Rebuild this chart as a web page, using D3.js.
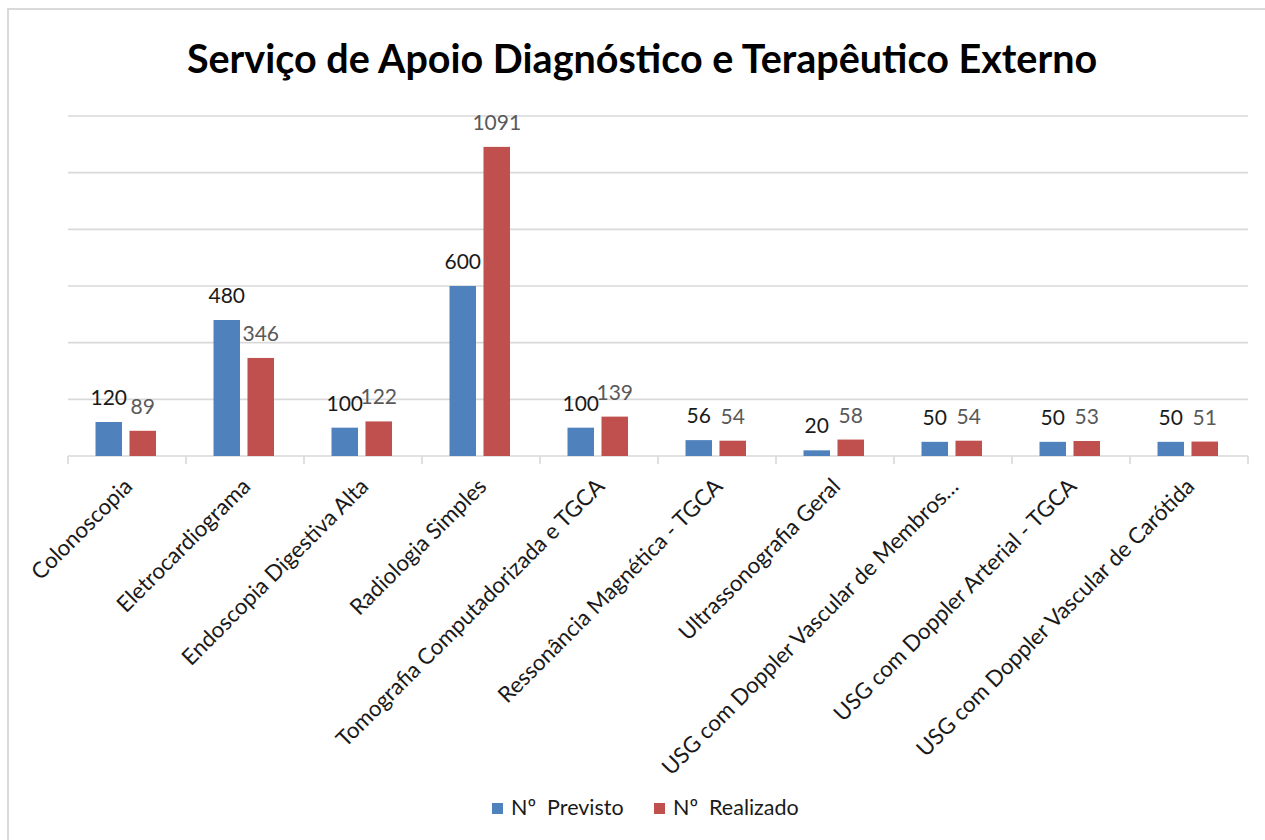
<!DOCTYPE html>
<html>
<head>
<meta charset="utf-8">
<script src="https://cdn.jsdelivr.net/npm/d3@7"></script>
<style>
  body { margin:0; background:#fff; }
  svg text { font-family: Lato, "Open Sans", sans-serif; }
</style>
</head>
<body>
<svg id="chart" width="1265" height="840"></svg>
<script>
// data
var categories=["Colonoscopia","Eletrocardiograma","Endoscopia Digestiva Alta","Radiologia Simples",
  "Tomografia Computadorizada e TGCA","Ressonância Magnética - TGCA","Ultrassonografia Geral",
  "USG com Doppler Vascular de Membros\u2026","USG com Doppler Arterial - TGCA","USG com Doppler Vascular de Carótida"];
var previsto=[120,480,100,600,100,56,20,50,50,50];
var realizado=[89,346,122,1091,139,54,58,54,53,51];
var series=["Nº  Previsto","Nº  Realizado"];
var colors=["#4F81BD","#C0504D"];
var labelColors=["#1a1a1a","#595959"];
var yTicks=[0,200,400,600,800,1000,1200];
var title="Serviço de Apoio Diagnóstico e Terapêutico Externo";

var svg=d3.select("#chart");

// outer frame
svg.append("path")
  .attr("d","M8,840 L8,9 L1265,9")
  .attr("fill","none").attr("stroke","#D9D9D9").attr("stroke-width",2);

var x=d3.scaleBand().domain(categories).range([68,1248]);
var x1=d3.scaleBand().domain([0,1]).range([27.5,88]).paddingInner(0.22);
var y=d3.scaleLinear().domain([0,1200]).range([456,116]);

// gridlines
svg.append("g").selectAll("line").data(yTicks).join("line")
  .attr("x1",68).attr("x2",1248)
  .attr("y1",function(d){return y(d);}).attr("y2",function(d){return y(d);})
  .attr("stroke","#D9D9D9").attr("stroke-width",1.6);

// category ticks
var bounds=categories.map(function(c){return x(c);}).concat([x.range()[1]]);
svg.append("g").selectAll("line").data(bounds).join("line")
  .attr("x1",function(d){return d;}).attr("x2",function(d){return d;})
  .attr("y1",456).attr("y2",464)
  .attr("stroke","#D9D9D9").attr("stroke-width",1.6);

var rows=categories.map(function(c,i){return {cat:c,vals:[previsto[i],realizado[i]]};});

var groups=svg.append("g").selectAll("g").data(rows).join("g")
  .attr("transform",function(d){return "translate("+x(d.cat)+",0)";});

groups.selectAll("rect").data(function(d){return d.vals;}).join("rect")
  .attr("x",function(d,i){return x1(i);})
  .attr("width",x1.bandwidth())
  .attr("y",function(d){return y(d);})
  .attr("height",function(d){return y(0)-y(d);})
  .attr("fill",function(d,i){return colors[i];});

groups.selectAll("text").data(function(d){return d.vals;}).join("text")
  .attr("x",function(d,i){return x1(i)+x1.bandwidth()/2;})
  .attr("y",function(d){return y(d)-17;})
  .attr("text-anchor","middle")
  .attr("font-size",21)
  .attr("fill",function(d,i){return labelColors[i];})
  .text(function(d){return d;});

// rotated category labels
svg.append("g").selectAll("text").data(categories).join("text")
  .attr("transform",function(d){return "translate("+(x(d)+x.bandwidth()/2-5)+",476) rotate(-45)";})
  .attr("text-anchor","end")
  .attr("dy","0.75em")
  .attr("font-size",22.3)
  .attr("fill","#1a1a1a")
  .text(function(d){return d;});

// title
svg.append("text")
  .attr("x",642).attr("y",73)
  .attr("text-anchor","middle")
  .attr("font-size",39.5).attr("font-weight","bold")
  .attr("fill","#000")
  .text(title);

// legend
var legX=[492,654];
var leg=svg.append("g").selectAll("g").data(series).join("g")
  .attr("transform",function(d,i){return "translate("+legX[i]+",803)";});
leg.append("rect").attr("width",11).attr("height",11)
  .attr("fill",function(d,i){return colors[i];});
leg.append("text").attr("x",19).attr("y",12)
  .attr("font-size",21.5).attr("fill","#1a1a1a")
  .style("white-space","pre")
  .text(function(d){return d;});
</script>
</body>
</html>
